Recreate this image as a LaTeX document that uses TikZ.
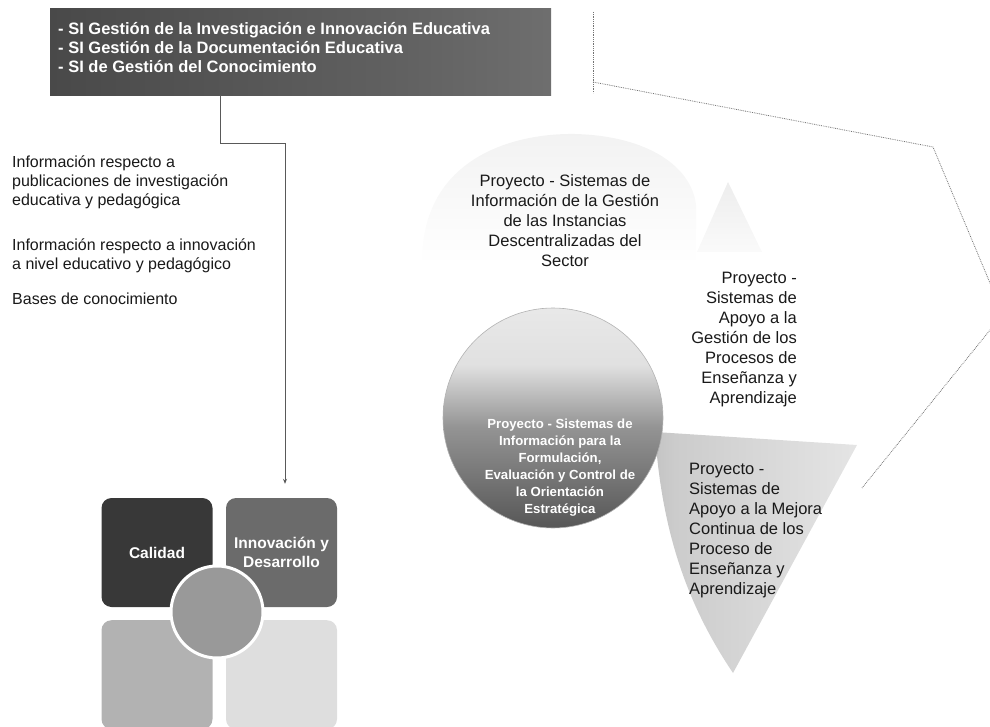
\documentclass[tikz,border=0pt]{standalone}
\usepackage{fontspec}
\setmainfont{Liberation Sans}
\usetikzlibrary{arrows.meta}
\pgfdeclareverticalshading{glossy}{100bp}{color(0bp)=(black!82); color(25bp)=(black!66); color(48bp)=(black!42); color(62bp)=(black!12); color(100bp)=(black!3)}
\pgfdeclarehorizontalshading{shieldshade}{100bp}{color(0bp)=(black!38); color(30bp)=(black!20); color(100bp)=(black!5)}
\pgfdeclarehorizontalshading{barshade}{100bp}{color(0bp)=(black!78); color(60bp)=(black!62); color(100bp)=(black!48)}
\tikzset{
  conn/.style={draw=black!65, line width=0.7pt},
  dotconn/.style={draw=black!55, line width=0.8pt, densely dotted},
  lbl/.style={font=\fontsize{16.5}{20}\selectfont, inner sep=0pt, text=black!90},
  sidelbl/.style={font=\fontsize{16}{19}\selectfont, inner sep=0pt, text=black!90},
  toplbl/.style={font=\bfseries\fontsize{16.5}{19}\selectfont, inner sep=0pt, text=white},
  circlbl/.style={font=\bfseries\fontsize{13.2}{17}\selectfont, inner sep=0pt, text=white, align=center},
  quad/.style={rounded corners=10pt, minimum width=111pt, minimum height=109pt, inner sep=0pt, text=white, align=center, font=\bfseries\fontsize{15.5}{19}\selectfont}
}
\begin{document}
\begin{tikzpicture}[x=1pt,y=-1pt]
\useasboundingbox (0,0) rectangle (990,727);
\begin{scope}
\clip (0,0) rectangle (990,727);

% top box
\node[shade, shading=barshade, minimum width=501pt, minimum height=87pt, inner sep=0pt, anchor=north west] (topbox) at (50,8) {};
\node[toplbl, align=left, anchor=north west] (toptext) at (58,21) {\strut- SI Gestión de la Investigación e Innovación Educativa\\- SI Gestión de la Documentación Educativa\\- SI de Gestión del Conocimiento};

% left texts
\node[sidelbl, align=left, anchor=north west] (para1) at (12,154) {\strut Información respecto a\\publicaciones de investigación\\educativa y pedagógica};
\node[sidelbl, align=left, anchor=north west] (para2) at (12,237) {\strut Información respecto a innovación\\a nivel educativo y pedagógico};
\node[sidelbl, align=left, anchor=north west] (para3) at (12,291) {\strut Bases de conocimiento};

% faint shapes
\shade[top color=black!5, bottom color=white] (422,265) .. controls (420,160) and (510,133) .. (575,134) .. controls (650,136) and (692,168) .. (696,205) -- (696,265) -- cycle;
\shade[top color=black!7, bottom color=black!2] (728,182) -- (762,252) -- (697,252) -- cycle;
\shade[shading=shieldshade] (655,432) -- (857,445) -- (733,673) .. controls (692,612) and (662,540) .. (655,432) -- cycle;

% big circle
\node[circle, shade, shading=glossy, draw=black!30, line width=0.6pt, minimum size=220pt, inner sep=0pt] (bigc) at (553,418) {};
\node[circlbl, anchor=north] (bigtext) at (560,416) {\strut Proyecto - Sistemas de\\Información para la\\Formulación,\\Evaluación y Control de\\la Orientación\\Estratégica};

% labels
\node[lbl, align=center, anchor=north] (lab1) at (565,172) {\strut Proyecto - Sistemas de\\Información de la Gestión\\de las Instancias\\Descentralizadas del\\Sector};
\node[lbl, align=right, anchor=north east] (lab2) at (797,269) {\strut Proyecto -\\Sistemas de\\Apoyo a la\\Gestión de los\\Procesos de\\Enseñanza y\\Aprendizaje};
\node[lbl, align=left, anchor=north west] (lab3) at (689,460) {\strut Proyecto -\\Sistemas de\\Apoyo a la Mejora\\Continua de los\\Proceso de\\Enseñanza y\\Aprendizaje};

% matrix
\node[quad, fill=black!78] (calidad) at (157,552.5) {Calidad};
\node[quad, fill=black!58] (innov) at (281.5,552.5) {Innovación y\\Desarrollo};
\node[quad, fill=black!30, anchor=north] (qbl) at (157,620) {};
\node[quad, fill=black!13, anchor=north] (qbr) at (281.5,620) {};
\node[circle, fill=black!40, draw=white, line width=3pt, minimum size=92pt, inner sep=0pt] (core) at (217,612) {};

% connectors
\coordinate (la) at (220,143);
\coordinate (lb) at (285,143);
\draw[conn, -{Stealth[length=5pt,width=4pt]}, shorten >=14pt] (topbox.south -| la) -- (la) -- (lb) -- (lb |- innov.north);

\coordinate (r1) at (593,12);
\coordinate (r2) at (593,93);
\coordinate (r3) at (593,82);
\coordinate (r4) at (933,147);
\coordinate (r5) at (1003,314);
\coordinate (r6) at (862,488);
\draw[dotconn] (r1) -- (r2);
\draw[dotconn] (r3) -- (r4) -- (r5) -- (r6);
\end{scope}
\end{tikzpicture}
\end{document}
